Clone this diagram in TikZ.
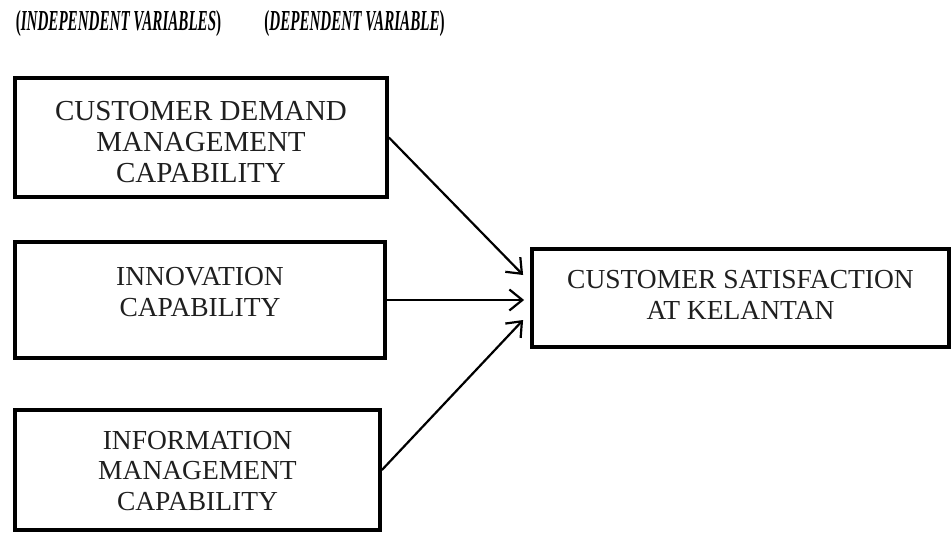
\documentclass[tikz,border=0pt]{standalone}
\usepackage{fontspec}
\usepackage{graphicx}
\setmainfont{Liberation Serif}
\usetikzlibrary{arrows.meta}
\tikzset{
  varbox/.style={draw=black, line width=3.8pt, rectangle, inner sep=0pt},
  boxtext/.style={align=center, inner sep=0pt, font=\fontsize{27.5}{30.5}\selectfont, text=black!88},
  arr/.style={line width=2.2pt, -{Straight Barb[length=13pt,width=21pt,line width=2.2pt]}},
  head/.style={inner sep=0pt, font=\fontsize{29}{31}\selectfont\bfseries}
}
\begin{document}
\begin{tikzpicture}[x=1pt,y=-1pt]
\useasboundingbox (0,0) rectangle (951,533);
\node[head] (h1) at (118.5,24) {\scalebox{0.52}[1]{(\textit{INDEPENDENT VARIABLES})}};
\node[head] (h2) at (354.5,24) {\scalebox{0.52}[1]{(\textit{DEPENDENT VARIABLE})}};
\node[varbox, minimum width=372pt, minimum height=119pt] (b1) at (201,137.5) {};
\node[boxtext, font=\fontsize{29}{31}\selectfont] (t1) at (201,142) {CUSTOMER DEMAND\\MANAGEMENT\\CAPABILITY};
\node[varbox, minimum width=370pt, minimum height=116pt] (b2) at (200,300) {};
\node[boxtext] (t2) at (200,292) {INNOVATION\\CAPABILITY};
\node[varbox, minimum width=365pt, minimum height=120pt] (b3) at (197.5,470) {};
\node[boxtext] (t3) at (197.5,471) {INFORMATION\\MANAGEMENT\\CAPABILITY};
\node[varbox, minimum width=417pt, minimum height=98pt] (b4) at (740.5,298) {};
\node[boxtext] (t4) at (740.5,295) {CUSTOMER SATISFACTION\\AT KELANTAN};
\draw[arr] (b1.east) -- ([shift={(-7,-23)}]b4.west);
\draw[arr, shorten >=6pt] (b2.east) -- (b2.east -| b4.west);
\draw[arr] (b3.east) -- ([shift={(-7,22)}]b4.west);
\end{tikzpicture}
\end{document}
